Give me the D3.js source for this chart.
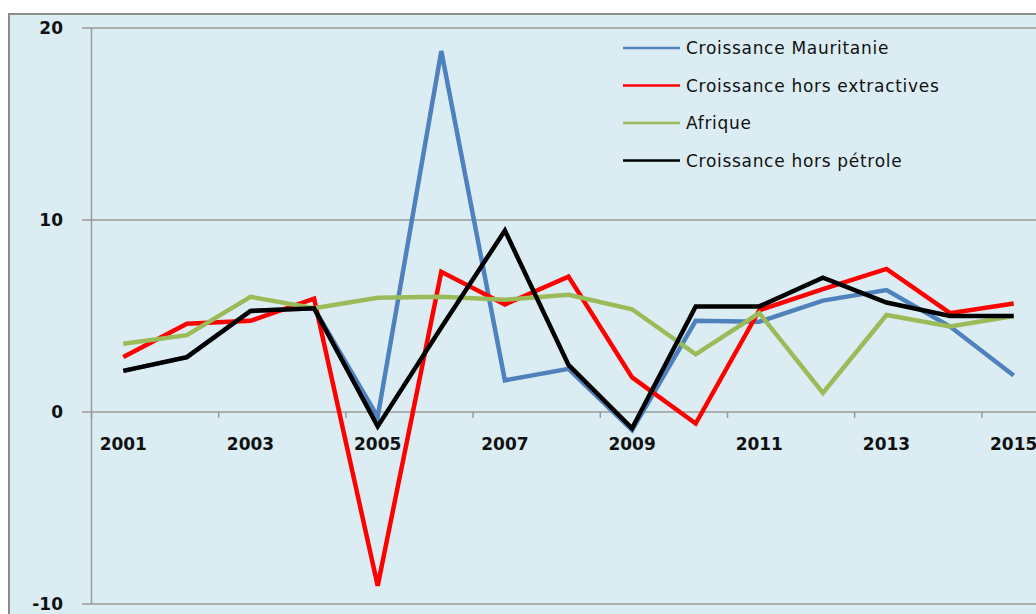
<!DOCTYPE html>
<html lang="fr">
<head>
<meta charset="utf-8">
<title>Croissance Mauritanie</title>
<script src="https://d3js.org/d3.v7.min.js"></script>
<style>
  body { margin: 0; background: #fff; }
  .tick-lbl { font-family: "DejaVu Sans", sans-serif; font-weight: bold; font-size: 17px; fill: #111; }
  .leg { font-family: "DejaVu Sans", sans-serif; font-size: 17px; fill: #111; letter-spacing: 0.7px; }
</style>
</head>
<body>
<script>
// data
var years = ["2001","2002","2003","2004","2005","2006","2007","2008","2009","2010","2011","2012","2013","2014","2015"];
var mauritanie = [2.14, 2.86, 5.26, 5.4, -0.25, 18.8, 1.65, 2.25, -0.95, 4.75, 4.7, 5.8, 6.35, 4.45, 1.9];
var horsExtractives = [2.86, 4.6, 4.75, 5.9, -9.05, 7.3, 5.6, 7.05, 1.8, -0.6, 5.3, 6.4, 7.45, 5.15, 5.65];
var afrique = [3.55, 4.0, 6.0, 5.4, 5.95, 6.0, 5.85, 6.1, 5.35, 3.0, 5.15, 1.0, 5.05, 4.45, 5.0];
var horsPetrole = [2.14, 2.86, 5.26, 5.4, -0.75, 4.4, 9.45, 2.45, -0.85, 5.5, 5.5, 7.0, 5.7, 5.0, 5.0];
var yTicks = [-10, 0, 10, 20];

var series = [
  { name: "Croissance Mauritanie", values: mauritanie, color: "#4f81bd" },
  { name: "Croissance hors extractives", values: horsExtractives, color: "#ff0000" },
  { name: "Afrique", values: afrique, color: "#9bbb59" },
  { name: "Croissance hors pétrole", values: horsPetrole, color: "#000000" }
];

var W = 1036, H = 614;
var svg = d3.select("body").append("svg").attr("width", W).attr("height", H);

// chart frame
svg.append("rect")
  .attr("x", 9).attr("y", 14).attr("width", W).attr("height", H)
  .attr("fill", "#dbedf3").attr("stroke", "#8c8c8c").attr("stroke-width", 2);

var x = d3.scaleBand().domain(years).range([91.5, 1045.5]).padding(0);
var y = d3.scaleLinear().domain([-10, 20]).range([604, 28]);
var bw = x.bandwidth();

// horizontal grid lines
svg.selectAll(".grid").data(yTicks).enter().append("line")
  .attr("x1", 82).attr("x2", W)
  .attr("y1", function (d) { return y(d); })
  .attr("y2", function (d) { return y(d); })
  .attr("stroke", "#9a9a9a").attr("stroke-width", 1.5);

// y axis line
svg.append("line")
  .attr("x1", 91.5).attr("x2", 91.5).attr("y1", y(20)).attr("y2", y(-10))
  .attr("stroke", "#9a9a9a").attr("stroke-width", 1.5);

// y labels
svg.selectAll(".ylbl").data(yTicks).enter().append("text")
  .attr("class", "tick-lbl")
  .attr("x", 63)
  .attr("y", function (d) { return y(d); })
  .attr("dy", "0.36em")
  .attr("text-anchor", "end")
  .text(function (d) { return d; });

// x tick marks (every 2 categories)
var tickYears = years.filter(function (d, i) { return i % 2 === 0; });
svg.selectAll(".xtick").data(tickYears).enter().append("line")
  .attr("x1", function (d) { return x(d); })
  .attr("x2", function (d) { return x(d); })
  .attr("y1", y(0)).attr("y2", y(0) + 6)
  .attr("stroke", "#9a9a9a").attr("stroke-width", 1.5);

// x labels
svg.selectAll(".xlbl").data(tickYears).enter().append("text")
  .attr("class", "tick-lbl")
  .attr("x", function (d) { return x(d) + bw / 2; })
  .attr("y", y(0) + 32)
  .attr("dy", "0.36em")
  .attr("text-anchor", "middle")
  .text(function (d) { return d; });

// lines
var line = d3.line()
  .x(function (d, i) { return x(years[i]) + bw / 2; })
  .y(function (d) { return y(d); });

svg.selectAll(".series").data(series).enter().append("path")
  .attr("d", function (s) { return line(s.values); })
  .attr("fill", "none")
  .attr("stroke", function (s) { return s.color; })
  .attr("stroke-width", 4.5)
  .attr("stroke-linejoin", "miter");

// legend
var leg = svg.selectAll(".legend").data(series).enter().append("g")
  .attr("transform", function (d, i) { return "translate(623," + (48 + i * 37.5) + ")"; });
leg.append("line")
  .attr("x1", 0).attr("x2", 57).attr("y1", 0).attr("y2", 0)
  .attr("stroke", function (d) { return d.color; }).attr("stroke-width", 2.5);
leg.append("text")
  .attr("class", "leg")
  .attr("x", 63).attr("y", 0).attr("dy", "0.36em")
  .text(function (d) { return d.name; });
</script>
</body>
</html>
